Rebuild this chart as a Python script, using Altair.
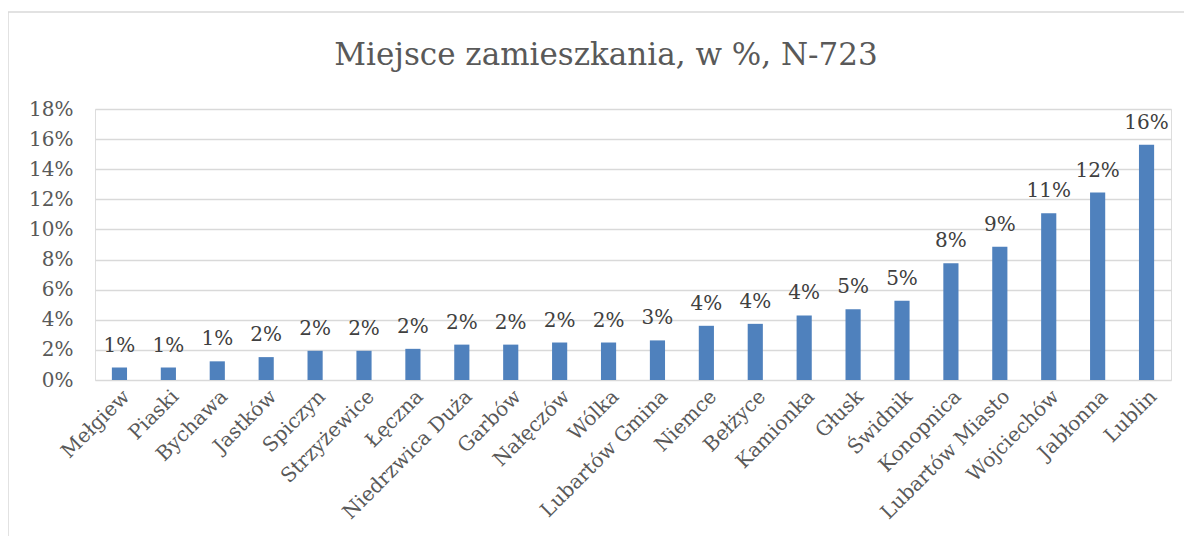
import altair as alt
import pandas as pd

title_text = "Miejsce zamieszkania, w %, N-723"
categories = ["Mełgiew", "Piaski", "Bychawa", "Jastków", "Spiczyn", "Strzyżewice",
              "Łęczna", "Niedrzwica Duża", "Garbów", "Nałęczów", "Wólka",
              "Lubartów Gmina", "Niemce", "Bełżyce", "Kamionka", "Głusk", "Świdnik",
              "Konopnica", "Lubartów Miasto", "Wojciechów", "Jabłonna", "Lublin"]
percent = [0.83, 0.83, 1.24, 1.52, 1.94, 1.94, 2.07, 2.35, 2.35, 2.49, 2.49,
           2.63, 3.60, 3.73, 4.29, 4.70, 5.26, 7.75, 8.85, 11.07, 12.45, 15.63]
y_ticks = [0, 0.02, 0.04, 0.06, 0.08, 0.10, 0.12, 0.14, 0.16, 0.18]

df = pd.DataFrame({"miejsce": categories, "share": [p / 100 for p in percent]})

FONT = "DejaVu Serif"
TEXT = "#595959"
GRID = "#D9D9D9"
BLUE = "#4F81BD"

x_enc = alt.X("miejsce:N", sort=categories, title=None,
              scale=alt.Scale(paddingInner=0.69, paddingOuter=0.345),
              axis=alt.Axis(labelAngle=-45, labelFont=FONT, labelFontSize=20,
                            labelColor=TEXT, ticks=False, domain=False,
                            labelPadding=6, labelOverlap=False, grid=False,
                            labelLimit=400))
y_enc = alt.Y("share:Q", title=None,
              scale=alt.Scale(domain=[0, 0.18], nice=False, zero=True),
              axis=alt.Axis(values=y_ticks, format=".0%", labelFont=FONT,
                            labelFontSize=20, labelColor=TEXT, ticks=False,
                            domain=False, gridColor=GRID, gridWidth=1.5,
                            labelPadding=22, labelOverlap=False,
                            labelBound=False, labelFlush=False, tickCount=10))

base = alt.Chart(df)
bars = base.mark_bar(color=BLUE).encode(x=x_enc, y=y_enc)
labels = base.mark_text(font=FONT, fontSize=20, color="#404040",
                        baseline="alphabetic", dy=-16).encode(
    x=x_enc, y=y_enc,
    text=alt.Text("share:Q", format=".0%"))

single = pd.DataFrame({"t": [title_text]})
title = alt.Chart(single).mark_text(font=FONT, fontSize=31, color=TEXT,
                                    align="center", baseline="alphabetic").encode(
    x=alt.value(511), y=alt.value(-44), text="t:N")
frame_left = alt.Chart(single).mark_rule(color=GRID, strokeWidth=1.5).encode(
    x=alt.value(-87), y=alt.value(-97), y2=alt.value(440))
frame_top = alt.Chart(single).mark_rule(color=GRID, strokeWidth=1.5).encode(
    x=alt.value(-87), x2=alt.value(1100), y=alt.value(-97))

chart = alt.layer(frame_left, frame_top, title, bars, labels).properties(
    width=1076, height=271,
    autosize=alt.AutoSizeParams(type="none"),
    padding={"left": 87, "top": 101, "right": 13, "bottom": 156},
).configure_view(stroke=None).configure(background="white")

chart.save("out.html", embed_options={"renderer": "svg", "actions": False})
